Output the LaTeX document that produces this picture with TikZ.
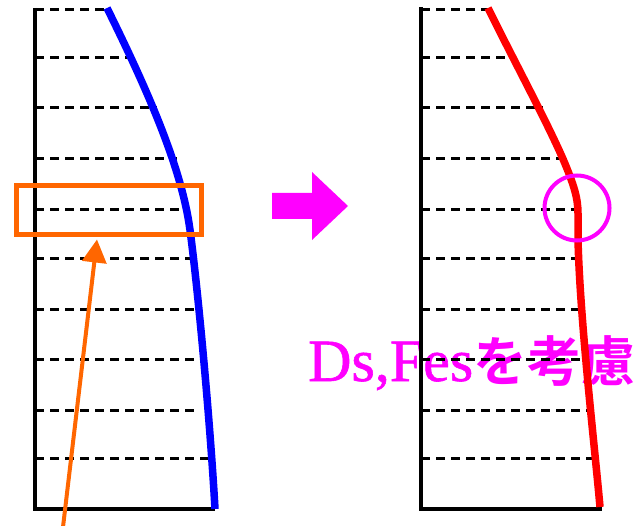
\documentclass[tikz,border=0pt]{standalone}
\usepackage{fontspec}
\setmainfont{Liberation Serif}
\newfontfamily\latfont{Liberation Serif}[FakeBold=1.0]
\newfontfamily\jpfont{Noto Sans CJK JP Bold}[Scale=0.9]
\usetikzlibrary{arrows.meta, calc, positioning}
\definecolor{lblue}{HTML}{0000FF}
\definecolor{lred}{HTML}{FF0000}
\definecolor{lorange}{HTML}{FF6600}
\definecolor{lmag}{HTML}{FF00FF}

\begin{document}
\begin{tikzpicture}[x=1bp, y=-1bp,
    frame/.style={line width=4.5bp},
    guide/.style={line width=3bp, dash pattern=on 9bp off 6bp},
    profile/.style={line width=7.5bp}]
  \useasboundingbox (0,0) rectangle (644,526);
  \begin{scope}
    \foreach \y/\e in {10/105, 58/130, 108/157, 159/177, 210/190,
        258/196, 309/195, 359/195, 410/197, 458/213} {
      \draw[guide] (35,\y) -- (\e,\y);
    }
    \draw[frame] (35,8) -- (35,509) -- (215,509);
    \draw[profile, lblue] (107,8) .. controls (150,95) and (182,170)
      .. (190,230) .. controls (198,290) and (210,420) .. (215,509);
    \node[draw=lorange, line width=5bp, minimum width=185bp,
      minimum height=49bp, inner sep=0] (focus) at (109,210) {};
    \coordinate (foot) at (63,527);
    \coordinate (head) at ($(focus.south)+(-12,2.5)$);
    \draw[lorange, line width=4bp, -{Triangle[length=23bp, width=24bp]}]
      (foot) -- (head);
  \end{scope}
  \fill[lmag] (272,193) -- (312,193) -- (312,172) -- (348,206) -- (312,240)
    -- (312,219) -- (272,219) -- cycle;
  % text sits under the right panel
  \node[lmag, anchor=base west, inner sep=0,
    font=\fontsize{60bp}{60bp}\selectfont\latfont] (note) at (308,381)
    {Ds,Fes{\jpfont を考慮}};
  \begin{scope}[xshift=386bp]
    \foreach \y/\e in {10/102, 58/122, 108/157, 159/177, 210/192,
        258/197, 309/196, 359/196, 410/206, 458/214} {
      \draw[guide] (35,\y) -- (\e,\y);
    }
    \draw[frame] (35,7) -- (35,509) -- (216,509);
    \draw[profile, lred] (102,8) .. controls (125,55) and (160,120)
      .. (177,159) .. controls (188,185) and (192,198) .. (192,214)
      -- (192,240) .. controls (194,320) and (208,440) .. (214,507);
    \node[draw=lmag, circle, line width=4bp, minimum size=65bp,
      inner sep=0] (mark) at (191,208) {};
  \end{scope}
\end{tikzpicture}
\end{document}
